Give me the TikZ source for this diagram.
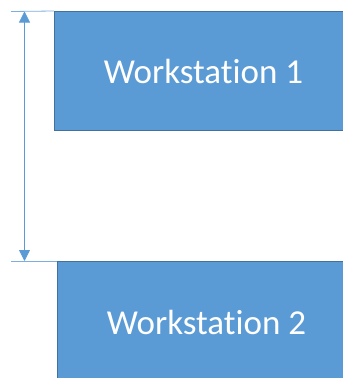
\documentclass[tikz,border=0pt]{standalone}
\usepackage{fontspec}
\setmainfont{Carlito}[Ligatures=NoCommon]
\usetikzlibrary{arrows.meta}
\definecolor{boxfill}{HTML}{5B9BD5}
\definecolor{boxline}{HTML}{41719C}
\definecolor{dimline}{HTML}{5B9BD5}
\tikzset{
  station/.style={draw=boxline, line width=1pt, fill=boxfill, text=white,
    font=\fontsize{35}{40}\selectfont, inner sep=0pt, anchor=north west,
    minimum width=298pt},
  extline/.style={draw=dimline!80, line width=0.8pt},
  dimarrow/.style={draw=dimline, line width=0.8pt,
    {Triangle[width=11pt,length=11pt]}-{Triangle[width=11pt,length=11pt]}}
}
\begin{document}
\begin{tikzpicture}[x=1pt,y=-1pt]
\useasboundingbox (0,0) rectangle (343,378);
\clip (0,0) rectangle (343,378);
\fill[white] (0,0) rectangle (343,378);
\node[station, minimum height=119pt] (ws1) at (54,11) {Workstation 1};
\node[station, minimum height=122pt] (ws2) at (57,261) {Workstation 2};
% extension lines
\coordinate (top) at (11,11.5);
\coordinate (bot) at (11,261);
\draw[extline] (top) -- (ws1.north west);
\draw[extline] (bot) -- (ws2.north west);
% dimension arrow
\coordinate (a1) at (24.5,11.5);
\coordinate (a2) at (24.5,261);
\draw[dimarrow] (a1) -- (a2);
\end{tikzpicture}
\end{document}
